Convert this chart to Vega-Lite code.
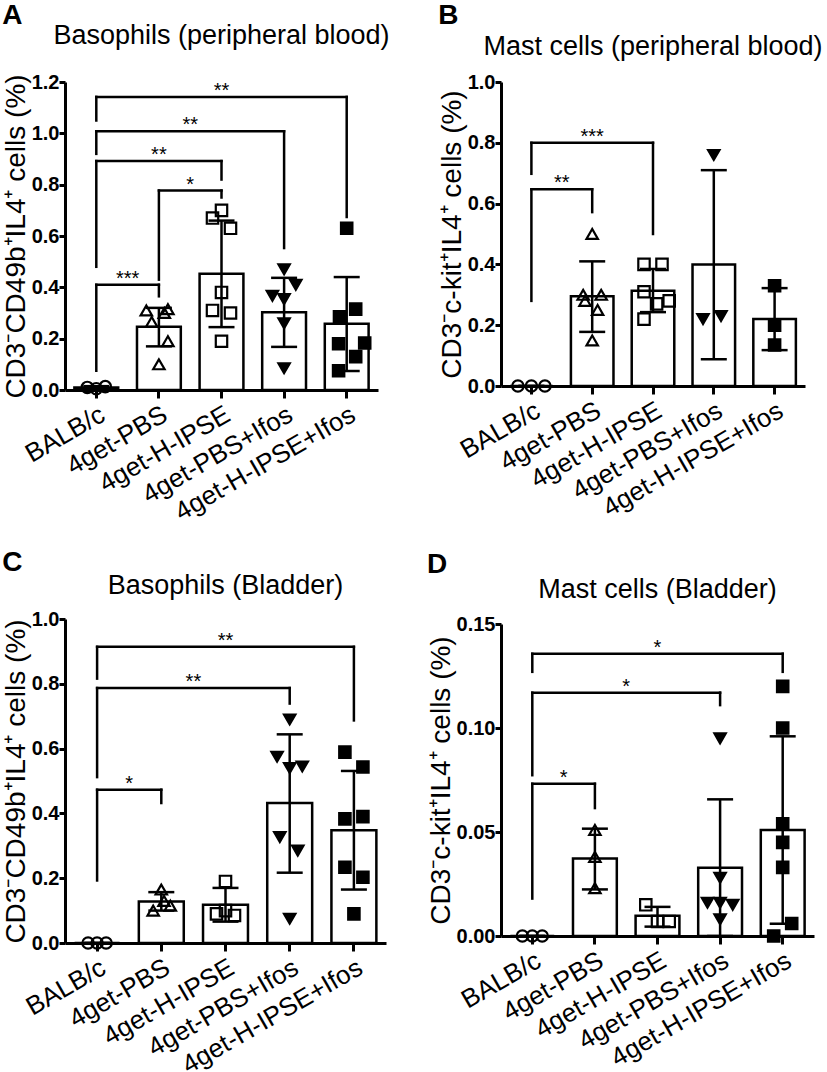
{
  "$schema": "https://vega.github.io/schema/vega-lite/v6.json",
  "padding": {"left": 2, "top": 2, "right": 0, "bottom": 0},
  "background": "white",
  "config": {
    "font": "Liberation Sans",
    "view": {"stroke": null},
    "title": {"color": "black", "font": "Liberation Sans", "fontWeight": "normal"},
    "axis": {"domainColor": "black", "tickColor": "black", "labelColor": "black", "titleColor": "black", "grid": false, "domainWidth": 3, "tickWidth": 3, "labelFont": "Liberation Sans", "titleFont": "Liberation Sans", "labelLimit": 400},
    "axisY": {"labelFontSize": 20, "labelFontWeight": "bold", "tickSize": 6, "labelPadding": 0, "titleFontSize": 28, "titleFontWeight": "normal", "titlePadding": 1},
    "axisX": {"labelFontSize": 26, "labelAngle": -30, "tickSize": 8, "labelPadding": 3}
  },
  "datasets": {
    "sumA": [
      {"group": "BALB/c", "mean": 0.01, "lo": 0.005, "hi": 0.015},
      {"group": "4get-PBS", "mean": 0.246, "lo": 0.17, "hi": 0.32},
      {"group": "4get-H-IPSE", "mean": 0.453, "lo": 0.245, "hi": 0.66},
      {"group": "4get-PBS+Ifos", "mean": 0.303, "lo": 0.168, "hi": 0.437},
      {"group": "4get-H-IPSE+Ifos", "mean": 0.258, "lo": 0.074, "hi": 0.44}
    ],
    "ptsA": [
      {"group": "BALB/c", "value": 0.01, "lane": -1},
      {"group": "BALB/c", "value": 0.005, "lane": 0},
      {"group": "BALB/c", "value": 0.013, "lane": 1},
      {"group": "4get-PBS", "value": 0.315, "lane": 1},
      {"group": "4get-PBS", "value": 0.31, "lane": -1.4},
      {"group": "4get-PBS", "value": 0.30, "lane": 0.6},
      {"group": "4get-PBS", "value": 0.265, "lane": -0.8},
      {"group": "4get-PBS", "value": 0.19, "lane": 1},
      {"group": "4get-PBS", "value": 0.10, "lane": 0},
      {"group": "4get-H-IPSE", "value": 0.67, "lane": -1},
      {"group": "4get-H-IPSE", "value": 0.70, "lane": 0},
      {"group": "4get-H-IPSE", "value": 0.63, "lane": 1},
      {"group": "4get-H-IPSE", "value": 0.38, "lane": 0},
      {"group": "4get-H-IPSE", "value": 0.31, "lane": -1},
      {"group": "4get-H-IPSE", "value": 0.30, "lane": 1},
      {"group": "4get-H-IPSE", "value": 0.19, "lane": 0},
      {"group": "4get-PBS+Ifos", "value": 0.47, "lane": 0},
      {"group": "4get-PBS+Ifos", "value": 0.41, "lane": 1.3},
      {"group": "4get-PBS+Ifos", "value": 0.367, "lane": -1.3},
      {"group": "4get-PBS+Ifos", "value": 0.354, "lane": 0},
      {"group": "4get-PBS+Ifos", "value": 0.26, "lane": 0},
      {"group": "4get-PBS+Ifos", "value": 0.085, "lane": 0},
      {"group": "4get-H-IPSE+Ifos", "value": 0.63, "lane": 0},
      {"group": "4get-H-IPSE+Ifos", "value": 0.315, "lane": 1},
      {"group": "4get-H-IPSE+Ifos", "value": 0.285, "lane": -0.8},
      {"group": "4get-H-IPSE+Ifos", "value": 0.183, "lane": 2},
      {"group": "4get-H-IPSE+Ifos", "value": 0.18, "lane": -0.9},
      {"group": "4get-H-IPSE+Ifos", "value": 0.13, "lane": 1},
      {"group": "4get-H-IPSE+Ifos", "value": 0.075, "lane": -0.9}
    ],
    "brA": [
      {"g1": "BALB/c", "g2": "4get-PBS", "mid": "BALB/c|4get-PBS", "level": 0.41, "b1": 0.075, "b2": 0.365, "label": "***"},
      {"g1": "4get-PBS", "g2": "4get-H-IPSE", "mid": "4get-PBS|4get-H-IPSE", "level": 0.777, "b1": 0.43, "b2": 0.75, "label": "*"},
      {"g1": "BALB/c", "g2": "4get-H-IPSE", "mid": "4get-PBS", "level": 0.892, "b1": 0.48, "b2": 0.82, "label": "**"},
      {"g1": "BALB/c", "g2": "4get-PBS+Ifos", "mid": "4get-PBS|4get-H-IPSE", "level": 1.008, "b1": 0.92, "b2": 0.553, "label": "**"},
      {"g1": "BALB/c", "g2": "4get-H-IPSE+Ifos", "mid": "4get-H-IPSE", "level": 1.142, "b1": 1.05, "b2": 0.674, "label": "**"}
    ],
    "sumB": [
      {"group": "BALB/c", "mean": 0, "lo": 0, "hi": 0},
      {"group": "4get-PBS", "mean": 0.295, "lo": 0.178, "hi": 0.41},
      {"group": "4get-H-IPSE", "mean": 0.313, "lo": 0.243, "hi": 0.385},
      {"group": "4get-PBS+Ifos", "mean": 0.40, "lo": 0.088, "hi": 0.71},
      {"group": "4get-H-IPSE+Ifos", "mean": 0.22, "lo": 0.118, "hi": 0.322}
    ],
    "ptsB": [
      {"group": "BALB/c", "value": 0, "lane": -1.5},
      {"group": "BALB/c", "value": 0, "lane": 0},
      {"group": "BALB/c", "value": 0, "lane": 1.5},
      {"group": "4get-PBS", "value": 0.50, "lane": 0},
      {"group": "4get-PBS", "value": 0.30, "lane": -1},
      {"group": "4get-PBS", "value": 0.30, "lane": 1},
      {"group": "4get-PBS", "value": 0.28, "lane": -0.8},
      {"group": "4get-PBS", "value": 0.25, "lane": 0.6},
      {"group": "4get-PBS", "value": 0.15, "lane": 0},
      {"group": "4get-H-IPSE", "value": 0.40, "lane": -1},
      {"group": "4get-H-IPSE", "value": 0.40, "lane": 1},
      {"group": "4get-H-IPSE", "value": 0.31, "lane": -1},
      {"group": "4get-H-IPSE", "value": 0.28, "lane": 1.8},
      {"group": "4get-H-IPSE", "value": 0.27, "lane": 0.4},
      {"group": "4get-H-IPSE", "value": 0.22, "lane": -1},
      {"group": "4get-PBS+Ifos", "value": 0.76, "lane": 0},
      {"group": "4get-PBS+Ifos", "value": 0.22, "lane": -1.2},
      {"group": "4get-PBS+Ifos", "value": 0.23, "lane": 0.8},
      {"group": "4get-H-IPSE+Ifos", "value": 0.33, "lane": 0},
      {"group": "4get-H-IPSE+Ifos", "value": 0.20, "lane": 0},
      {"group": "4get-H-IPSE+Ifos", "value": 0.135, "lane": 0}
    ],
    "brB": [
      {"g1": "BALB/c", "g2": "4get-PBS", "mid": "BALB/c|4get-PBS", "level": 0.647, "b1": 0.28, "b2": 0.572, "label": "**"},
      {"g1": "BALB/c", "g2": "4get-H-IPSE", "mid": "4get-PBS", "level": 0.80, "b1": 0.698, "b2": 0.50, "label": "***"}
    ],
    "sumC": [
      {"group": "BALB/c", "mean": 0, "lo": 0, "hi": 0},
      {"group": "4get-PBS", "mean": 0.128, "lo": 0.10, "hi": 0.157},
      {"group": "4get-H-IPSE", "mean": 0.118, "lo": 0.066, "hi": 0.17},
      {"group": "4get-PBS+Ifos", "mean": 0.432, "lo": 0.217, "hi": 0.644},
      {"group": "4get-H-IPSE+Ifos", "mean": 0.348, "lo": 0.165, "hi": 0.531}
    ],
    "ptsC": [
      {"group": "BALB/c", "value": 0, "lane": -1},
      {"group": "BALB/c", "value": 0, "lane": 0},
      {"group": "BALB/c", "value": 0, "lane": 1},
      {"group": "4get-PBS", "value": 0.165, "lane": 0},
      {"group": "4get-PBS", "value": 0.13, "lane": 0.3},
      {"group": "4get-PBS", "value": 0.115, "lane": 1},
      {"group": "4get-PBS", "value": 0.10, "lane": -0.9},
      {"group": "4get-H-IPSE", "value": 0.19, "lane": 0},
      {"group": "4get-H-IPSE", "value": 0.10, "lane": 0},
      {"group": "4get-H-IPSE", "value": 0.09, "lane": -1},
      {"group": "4get-H-IPSE", "value": 0.085, "lane": 1},
      {"group": "4get-PBS+Ifos", "value": 0.69, "lane": 0},
      {"group": "4get-PBS+Ifos", "value": 0.575, "lane": -1.4},
      {"group": "4get-PBS+Ifos", "value": 0.54, "lane": 0},
      {"group": "4get-PBS+Ifos", "value": 0.545, "lane": 1.4},
      {"group": "4get-PBS+Ifos", "value": 0.327, "lane": -1.1},
      {"group": "4get-PBS+Ifos", "value": 0.285, "lane": 0.9},
      {"group": "4get-PBS+Ifos", "value": 0.075, "lane": 0},
      {"group": "4get-H-IPSE+Ifos", "value": 0.589, "lane": -1},
      {"group": "4get-H-IPSE+Ifos", "value": 0.543, "lane": 1},
      {"group": "4get-H-IPSE+Ifos", "value": 0.383, "lane": -1},
      {"group": "4get-H-IPSE+Ifos", "value": 0.39, "lane": 1},
      {"group": "4get-H-IPSE+Ifos", "value": 0.234, "lane": -1},
      {"group": "4get-H-IPSE+Ifos", "value": 0.203, "lane": 1},
      {"group": "4get-H-IPSE+Ifos", "value": 0.09, "lane": 0}
    ],
    "brC": [
      {"g1": "BALB/c", "g2": "4get-PBS", "mid": "BALB/c|4get-PBS", "level": 0.473, "b1": 0.193, "b2": 0.432, "label": "*"},
      {"g1": "BALB/c", "g2": "4get-PBS+Ifos", "mid": "4get-PBS|4get-H-IPSE", "level": 0.787, "b1": 0.512, "b2": 0.739, "label": "**"},
      {"g1": "BALB/c", "g2": "4get-H-IPSE+Ifos", "mid": "4get-H-IPSE", "level": 0.914, "b1": 0.816, "b2": 0.687, "label": "**"}
    ],
    "sumD": [
      {"group": "BALB/c", "mean": 0, "lo": 0, "hi": 0},
      {"group": "4get-PBS", "mean": 0.0372, "lo": 0.0224, "hi": 0.0516},
      {"group": "4get-H-IPSE", "mean": 0.0097, "lo": 0.0045, "hi": 0.014},
      {"group": "4get-PBS+Ifos", "mean": 0.0328, "lo": 0, "hi": 0.0657},
      {"group": "4get-H-IPSE+Ifos", "mean": 0.051, "lo": 0.0059, "hi": 0.096}
    ],
    "ptsD": [
      {"group": "BALB/c", "value": 0, "lane": -1.1},
      {"group": "BALB/c", "value": 0, "lane": 0},
      {"group": "BALB/c", "value": 0, "lane": 1.1},
      {"group": "4get-PBS", "value": 0.051, "lane": 0},
      {"group": "4get-PBS", "value": 0.038, "lane": 0},
      {"group": "4get-PBS", "value": 0.023, "lane": 0},
      {"group": "4get-H-IPSE", "value": 0.015, "lane": -1.3},
      {"group": "4get-H-IPSE", "value": 0.007, "lane": 0},
      {"group": "4get-H-IPSE", "value": 0.007, "lane": 1.3},
      {"group": "4get-PBS+Ifos", "value": 0.095, "lane": 0},
      {"group": "4get-PBS+Ifos", "value": 0.028, "lane": 0},
      {"group": "4get-PBS+Ifos", "value": 0.016, "lane": -1.4},
      {"group": "4get-PBS+Ifos", "value": 0.016, "lane": 0},
      {"group": "4get-PBS+Ifos", "value": 0.015, "lane": 1.4},
      {"group": "4get-PBS+Ifos", "value": 0.008, "lane": 0},
      {"group": "4get-H-IPSE+Ifos", "value": 0.12, "lane": 0},
      {"group": "4get-H-IPSE+Ifos", "value": 0.10, "lane": 0},
      {"group": "4get-H-IPSE+Ifos", "value": 0.054, "lane": 0},
      {"group": "4get-H-IPSE+Ifos", "value": 0.045, "lane": 0},
      {"group": "4get-H-IPSE+Ifos", "value": 0.033, "lane": 0},
      {"group": "4get-H-IPSE+Ifos", "value": 0.006, "lane": 1},
      {"group": "4get-H-IPSE+Ifos", "value": 0.0, "lane": -1}
    ],
    "brD": [
      {"g1": "BALB/c", "g2": "4get-PBS", "mid": "BALB/c|4get-PBS", "level": 0.0732, "b1": 0.018, "b2": 0.0615, "label": "*"},
      {"g1": "BALB/c", "g2": "4get-PBS+Ifos", "mid": "4get-PBS|4get-H-IPSE", "level": 0.117, "b1": 0.0773, "b2": 0.111, "label": "*"},
      {"g1": "BALB/c", "g2": "4get-H-IPSE+Ifos", "mid": "4get-H-IPSE", "level": 0.1357, "b1": 0.127, "b2": 0.127, "label": "*"}
    ]
  },
  "spacing": 37,
  "hconcat": [
    {
      "spacing": 23,
      "vconcat": [
        {
          "title": {"text": "A", "anchor": "start", "frame": "bounds", "fontSize": 28, "fontWeight": "bold", "offset": -8},
          "vconcat": [{
            "title": {"text": "Basophils (peripheral blood)", "anchor": "middle", "frame": "group", "fontSize": 27, "offset": 22},
            "width": 313, "height": 308,
            "resolve": {"scale": {"x": "independent", "xOffset": "independent"}},
            "layer": [
              {"resolve": {"scale": {"xOffset": "independent"}}, "layer": [
                {"data": {"name": "sumA"}, "mark": {"type": "bar", "fill": "white", "stroke": "black", "strokeWidth": 2.5},
                 "encoding": {
                   "x": {"field": "group", "type": "nominal", "scale": {"domain": ["BALB/c","4get-PBS","4get-H-IPSE","4get-PBS+Ifos","4get-H-IPSE+Ifos"], "paddingInner": 0.3, "paddingOuter": 0.15}, "title": null},
                   "y": {"field": "mean", "type": "quantitative", "scale": {"domain": [0, 1.2], "nice": false}, "axis": {"title": "CD3⁻CD49b⁺IL4⁺ cells (%)", "values": [0, 0.2, 0.4, 0.6, 0.8, 1.0, 1.2], "format": ".1f"}}
                 }},
                {"data": {"name": "sumA"}, "mark": {"type": "rule", "strokeWidth": 2.5, "color": "black"},
                 "encoding": {"x": {"field": "group", "type": "nominal"}, "y": {"field": "lo", "type": "quantitative"}, "y2": {"field": "hi"}}},
                {"data": {"name": "sumA"}, "mark": {"type": "tick", "orient": "horizontal", "size": 26, "thickness": 2.5, "color": "black", "opacity": 1},
                 "encoding": {"x": {"field": "group", "type": "nominal"}, "y": {"field": "hi", "type": "quantitative"}}},
                {"data": {"name": "sumA"}, "mark": {"type": "tick", "orient": "horizontal", "size": 26, "thickness": 2.5, "color": "black", "opacity": 1},
                 "encoding": {"x": {"field": "group", "type": "nominal"}, "y": {"field": "lo", "type": "quantitative"}}},
                {"data": {"name": "ptsA"}, "mark": {"type": "point", "filled": true, "stroke": "black", "strokeWidth": 2.2, "size": 130, "opacity": 1},
                 "encoding": {
                   "x": {"field": "group", "type": "nominal"},
                   "xOffset": {"field": "lane", "type": "quantitative", "scale": {"domain": [-2, 2], "range": [3.91, 39.91]}},
                   "y": {"field": "value", "type": "quantitative"},
                   "shape": {"field": "group", "type": "nominal", "scale": {"domain": ["BALB/c","4get-PBS","4get-H-IPSE","4get-PBS+Ifos","4get-H-IPSE+Ifos"], "range": ["circle","triangle-up","square","triangle-down","square"]}, "legend": null},
                   "fill": {"field": "group", "type": "nominal", "scale": {"domain": ["BALB/c","4get-PBS","4get-H-IPSE","4get-PBS+Ifos","4get-H-IPSE+Ifos"], "range": ["transparent","transparent","transparent","black","black"]}, "legend": null}
                 }},
                {"data": {"name": "brA"}, "mark": {"type": "rule", "strokeWidth": 2.5, "color": "black", "strokeCap": "square"},
                 "encoding": {"x": {"field": "g1", "type": "nominal"}, "x2": {"field": "g2"}, "y": {"field": "level", "type": "quantitative"}}},
                {"data": {"name": "brA"}, "mark": {"type": "rule", "strokeWidth": 2.5, "color": "black", "strokeCap": "square"},
                 "encoding": {"x": {"field": "g1", "type": "nominal"}, "y": {"field": "b1", "type": "quantitative"}, "y2": {"field": "level"}}},
                {"data": {"name": "brA"}, "mark": {"type": "rule", "strokeWidth": 2.5, "color": "black", "strokeCap": "square"},
                 "encoding": {"x": {"field": "g2", "type": "nominal"}, "y": {"field": "b2", "type": "quantitative"}, "y2": {"field": "level"}}}
              ]},
              {"data": {"name": "brA"}, "mark": {"type": "text", "fontSize": 20, "baseline": "alphabetic", "align": "center", "color": "black"},
               "encoding": {
                 "x": {"field": "mid", "type": "nominal", "scale": {"type": "point", "padding": 1, "domain": ["BALB/c","BALB/c|4get-PBS","4get-PBS","4get-PBS|4get-H-IPSE","4get-H-IPSE","4get-H-IPSE|4get-PBS+Ifos","4get-PBS+Ifos","4get-PBS+Ifos|4get-H-IPSE+Ifos","4get-H-IPSE+Ifos"]}, "axis": null},
                 "y": {"field": "level", "type": "quantitative"},
                 "text": {"field": "label"}
               }}
            ]
          }]
        },
        {
          "title": {"text": "C", "anchor": "start", "frame": "bounds", "fontSize": 28, "fontWeight": "bold", "offset": -5},
          "vconcat": [{
            "title": {"text": "Basophils (Bladder)", "anchor": "middle", "frame": "group", "fontSize": 27, "offset": 9},
            "width": 321, "height": 324,
            "resolve": {"scale": {"x": "independent", "xOffset": "independent"}},
            "layer": [
              {"resolve": {"scale": {"xOffset": "independent"}}, "layer": [
                {"data": {"name": "sumC"}, "mark": {"type": "bar", "fill": "white", "stroke": "black", "strokeWidth": 2.5},
                 "encoding": {
                   "x": {"field": "group", "type": "nominal", "scale": {"domain": ["BALB/c","4get-PBS","4get-H-IPSE","4get-PBS+Ifos","4get-H-IPSE+Ifos"], "paddingInner": 0.3, "paddingOuter": 0.15}, "title": null},
                   "y": {"field": "mean", "type": "quantitative", "scale": {"domain": [0, 1.0], "nice": false}, "axis": {"title": "CD3⁻CD49b⁺IL4⁺ cells (%)", "values": [0, 0.2, 0.4, 0.6, 0.8, 1.0], "format": ".1f"}}
                 }},
                {"data": {"name": "sumC"}, "mark": {"type": "rule", "strokeWidth": 2.5, "color": "black"},
                 "encoding": {"x": {"field": "group", "type": "nominal"}, "y": {"field": "lo", "type": "quantitative"}, "y2": {"field": "hi"}}},
                {"data": {"name": "sumC"}, "mark": {"type": "tick", "orient": "horizontal", "size": 26, "thickness": 2.5, "color": "black", "opacity": 1},
                 "encoding": {"x": {"field": "group", "type": "nominal"}, "y": {"field": "hi", "type": "quantitative"}}},
                {"data": {"name": "sumC"}, "mark": {"type": "tick", "orient": "horizontal", "size": 26, "thickness": 2.5, "color": "black", "opacity": 1},
                 "encoding": {"x": {"field": "group", "type": "nominal"}, "y": {"field": "lo", "type": "quantitative"}}},
                {"data": {"name": "ptsC"}, "mark": {"type": "point", "filled": true, "stroke": "black", "strokeWidth": 2.2, "size": 130, "opacity": 1},
                 "encoding": {
                   "x": {"field": "group", "type": "nominal"},
                   "xOffset": {"field": "lane", "type": "quantitative", "scale": {"domain": [-2, 2], "range": [4.47, 40.47]}},
                   "y": {"field": "value", "type": "quantitative"},
                   "shape": {"field": "group", "type": "nominal", "scale": {"domain": ["BALB/c","4get-PBS","4get-H-IPSE","4get-PBS+Ifos","4get-H-IPSE+Ifos"], "range": ["circle","triangle-up","square","triangle-down","square"]}, "legend": null},
                   "fill": {"field": "group", "type": "nominal", "scale": {"domain": ["BALB/c","4get-PBS","4get-H-IPSE","4get-PBS+Ifos","4get-H-IPSE+Ifos"], "range": ["transparent","transparent","transparent","black","black"]}, "legend": null}
                 }},
                {"data": {"name": "brC"}, "mark": {"type": "rule", "strokeWidth": 2.5, "color": "black", "strokeCap": "square"},
                 "encoding": {"x": {"field": "g1", "type": "nominal"}, "x2": {"field": "g2"}, "y": {"field": "level", "type": "quantitative"}}},
                {"data": {"name": "brC"}, "mark": {"type": "rule", "strokeWidth": 2.5, "color": "black", "strokeCap": "square"},
                 "encoding": {"x": {"field": "g1", "type": "nominal"}, "y": {"field": "b1", "type": "quantitative"}, "y2": {"field": "level"}}},
                {"data": {"name": "brC"}, "mark": {"type": "rule", "strokeWidth": 2.5, "color": "black", "strokeCap": "square"},
                 "encoding": {"x": {"field": "g2", "type": "nominal"}, "y": {"field": "b2", "type": "quantitative"}, "y2": {"field": "level"}}}
              ]},
              {"data": {"name": "brC"}, "mark": {"type": "text", "fontSize": 20, "baseline": "alphabetic", "align": "center", "color": "black"},
               "encoding": {
                 "x": {"field": "mid", "type": "nominal", "scale": {"type": "point", "padding": 1, "domain": ["BALB/c","BALB/c|4get-PBS","4get-PBS","4get-PBS|4get-H-IPSE","4get-H-IPSE","4get-H-IPSE|4get-PBS+Ifos","4get-PBS+Ifos","4get-PBS+Ifos|4get-H-IPSE+Ifos","4get-H-IPSE+Ifos"]}, "axis": null},
                 "y": {"field": "level", "type": "quantitative"},
                 "text": {"field": "label"}
               }}
            ]
          }]
        }
      ]
    },
    {
      "spacing": 29,
      "vconcat": [
        {
          "title": {"text": "B", "anchor": "start", "frame": "bounds", "fontSize": 28, "fontWeight": "bold", "offset": 3},
          "vconcat": [{
            "title": {"text": "Mast cells (peripheral blood)", "anchor": "middle", "frame": "group", "fontSize": 27, "offset": 11},
            "width": 304, "height": 304,
            "resolve": {"scale": {"x": "independent", "xOffset": "independent"}},
            "layer": [
              {"resolve": {"scale": {"xOffset": "independent"}}, "layer": [
                {"data": {"name": "sumB"}, "mark": {"type": "bar", "fill": "white", "stroke": "black", "strokeWidth": 2.5},
                 "encoding": {
                   "x": {"field": "group", "type": "nominal", "scale": {"domain": ["BALB/c","4get-PBS","4get-H-IPSE","4get-PBS+Ifos","4get-H-IPSE+Ifos"], "paddingInner": 0.3, "paddingOuter": 0.15}, "title": null},
                   "y": {"field": "mean", "type": "quantitative", "scale": {"domain": [0, 1.0], "nice": false}, "axis": {"title": "CD3⁻c-kit⁺IL4⁺ cells (%)", "values": [0, 0.2, 0.4, 0.6, 0.8, 1.0], "format": ".1f"}}
                 }},
                {"data": {"name": "sumB"}, "mark": {"type": "rule", "strokeWidth": 2.5, "color": "black"},
                 "encoding": {"x": {"field": "group", "type": "nominal"}, "y": {"field": "lo", "type": "quantitative"}, "y2": {"field": "hi"}}},
                {"data": {"name": "sumB"}, "mark": {"type": "tick", "orient": "horizontal", "size": 26, "thickness": 2.5, "color": "black", "opacity": 1},
                 "encoding": {"x": {"field": "group", "type": "nominal"}, "y": {"field": "hi", "type": "quantitative"}}},
                {"data": {"name": "sumB"}, "mark": {"type": "tick", "orient": "horizontal", "size": 26, "thickness": 2.5, "color": "black", "opacity": 1},
                 "encoding": {"x": {"field": "group", "type": "nominal"}, "y": {"field": "lo", "type": "quantitative"}}},
                {"data": {"name": "ptsB"}, "mark": {"type": "point", "filled": true, "stroke": "black", "strokeWidth": 2.2, "size": 130, "opacity": 1},
                 "encoding": {
                   "x": {"field": "group", "type": "nominal"},
                   "xOffset": {"field": "lane", "type": "quantitative", "scale": {"domain": [-2, 2], "range": [3.28, 39.28]}},
                   "y": {"field": "value", "type": "quantitative"},
                   "shape": {"field": "group", "type": "nominal", "scale": {"domain": ["BALB/c","4get-PBS","4get-H-IPSE","4get-PBS+Ifos","4get-H-IPSE+Ifos"], "range": ["circle","triangle-up","square","triangle-down","square"]}, "legend": null},
                   "fill": {"field": "group", "type": "nominal", "scale": {"domain": ["BALB/c","4get-PBS","4get-H-IPSE","4get-PBS+Ifos","4get-H-IPSE+Ifos"], "range": ["transparent","transparent","transparent","black","black"]}, "legend": null}
                 }},
                {"data": {"name": "brB"}, "mark": {"type": "rule", "strokeWidth": 2.5, "color": "black", "strokeCap": "square"},
                 "encoding": {"x": {"field": "g1", "type": "nominal"}, "x2": {"field": "g2"}, "y": {"field": "level", "type": "quantitative"}}},
                {"data": {"name": "brB"}, "mark": {"type": "rule", "strokeWidth": 2.5, "color": "black", "strokeCap": "square"},
                 "encoding": {"x": {"field": "g1", "type": "nominal"}, "y": {"field": "b1", "type": "quantitative"}, "y2": {"field": "level"}}},
                {"data": {"name": "brB"}, "mark": {"type": "rule", "strokeWidth": 2.5, "color": "black", "strokeCap": "square"},
                 "encoding": {"x": {"field": "g2", "type": "nominal"}, "y": {"field": "b2", "type": "quantitative"}, "y2": {"field": "level"}}}
              ]},
              {"data": {"name": "brB"}, "mark": {"type": "text", "fontSize": 20, "baseline": "alphabetic", "align": "center", "color": "black"},
               "encoding": {
                 "x": {"field": "mid", "type": "nominal", "scale": {"type": "point", "padding": 1, "domain": ["BALB/c","BALB/c|4get-PBS","4get-PBS","4get-PBS|4get-H-IPSE","4get-H-IPSE","4get-H-IPSE|4get-PBS+Ifos","4get-PBS+Ifos","4get-PBS+Ifos|4get-H-IPSE+Ifos","4get-H-IPSE+Ifos"]}, "axis": null},
                 "y": {"field": "level", "type": "quantitative"},
                 "text": {"field": "label"}
               }}
            ]
          }]
        },
        {
          "title": {"text": "D", "anchor": "start", "frame": "bounds", "fontSize": 28, "fontWeight": "bold", "offset": -3},
          "vconcat": [{
            "title": {"text": "Mast cells (Bladder)", "anchor": "middle", "frame": "group", "fontSize": 27, "offset": 10},
            "width": 313, "height": 312,
            "resolve": {"scale": {"x": "independent", "xOffset": "independent"}},
            "layer": [
              {"resolve": {"scale": {"xOffset": "independent"}}, "layer": [
                {"data": {"name": "sumD"}, "mark": {"type": "bar", "fill": "white", "stroke": "black", "strokeWidth": 2.5},
                 "encoding": {
                   "x": {"field": "group", "type": "nominal", "scale": {"domain": ["BALB/c","4get-PBS","4get-H-IPSE","4get-PBS+Ifos","4get-H-IPSE+Ifos"], "paddingInner": 0.3, "paddingOuter": 0.15}, "title": null},
                   "y": {"field": "mean", "type": "quantitative", "scale": {"domain": [0, 0.15], "nice": false}, "axis": {"title": "CD3⁻c-kit⁺IL4⁺ cells (%)", "values": [0, 0.05, 0.1, 0.15], "format": ".2f"}}
                 }},
                {"data": {"name": "sumD"}, "mark": {"type": "rule", "strokeWidth": 2.5, "color": "black"},
                 "encoding": {"x": {"field": "group", "type": "nominal"}, "y": {"field": "lo", "type": "quantitative"}, "y2": {"field": "hi"}}},
                {"data": {"name": "sumD"}, "mark": {"type": "tick", "orient": "horizontal", "size": 26, "thickness": 2.5, "color": "black", "opacity": 1},
                 "encoding": {"x": {"field": "group", "type": "nominal"}, "y": {"field": "hi", "type": "quantitative"}}},
                {"data": {"name": "sumD"}, "mark": {"type": "tick", "orient": "horizontal", "size": 26, "thickness": 2.5, "color": "black", "opacity": 1},
                 "encoding": {"x": {"field": "group", "type": "nominal"}, "y": {"field": "lo", "type": "quantitative"}}},
                {"data": {"name": "ptsD"}, "mark": {"type": "point", "filled": true, "stroke": "black", "strokeWidth": 2.2, "size": 130, "opacity": 1},
                 "encoding": {
                   "x": {"field": "group", "type": "nominal"},
                   "xOffset": {"field": "lane", "type": "quantitative", "scale": {"domain": [-2, 2], "range": [3.91, 39.91]}},
                   "y": {"field": "value", "type": "quantitative"},
                   "shape": {"field": "group", "type": "nominal", "scale": {"domain": ["BALB/c","4get-PBS","4get-H-IPSE","4get-PBS+Ifos","4get-H-IPSE+Ifos"], "range": ["circle","triangle-up","square","triangle-down","square"]}, "legend": null},
                   "fill": {"field": "group", "type": "nominal", "scale": {"domain": ["BALB/c","4get-PBS","4get-H-IPSE","4get-PBS+Ifos","4get-H-IPSE+Ifos"], "range": ["transparent","transparent","transparent","black","black"]}, "legend": null}
                 }},
                {"data": {"name": "brD"}, "mark": {"type": "rule", "strokeWidth": 2.5, "color": "black", "strokeCap": "square"},
                 "encoding": {"x": {"field": "g1", "type": "nominal"}, "x2": {"field": "g2"}, "y": {"field": "level", "type": "quantitative"}}},
                {"data": {"name": "brD"}, "mark": {"type": "rule", "strokeWidth": 2.5, "color": "black", "strokeCap": "square"},
                 "encoding": {"x": {"field": "g1", "type": "nominal"}, "y": {"field": "b1", "type": "quantitative"}, "y2": {"field": "level"}}},
                {"data": {"name": "brD"}, "mark": {"type": "rule", "strokeWidth": 2.5, "color": "black", "strokeCap": "square"},
                 "encoding": {"x": {"field": "g2", "type": "nominal"}, "y": {"field": "b2", "type": "quantitative"}, "y2": {"field": "level"}}}
              ]},
              {"data": {"name": "brD"}, "mark": {"type": "text", "fontSize": 20, "baseline": "alphabetic", "align": "center", "color": "black"},
               "encoding": {
                 "x": {"field": "mid", "type": "nominal", "scale": {"type": "point", "padding": 1, "domain": ["BALB/c","BALB/c|4get-PBS","4get-PBS","4get-PBS|4get-H-IPSE","4get-H-IPSE","4get-H-IPSE|4get-PBS+Ifos","4get-PBS+Ifos","4get-PBS+Ifos|4get-H-IPSE+Ifos","4get-H-IPSE+Ifos"]}, "axis": null},
                 "y": {"field": "level", "type": "quantitative"},
                 "text": {"field": "label"}
               }}
            ]
          }]
        }
      ]
    }
  ]
}
